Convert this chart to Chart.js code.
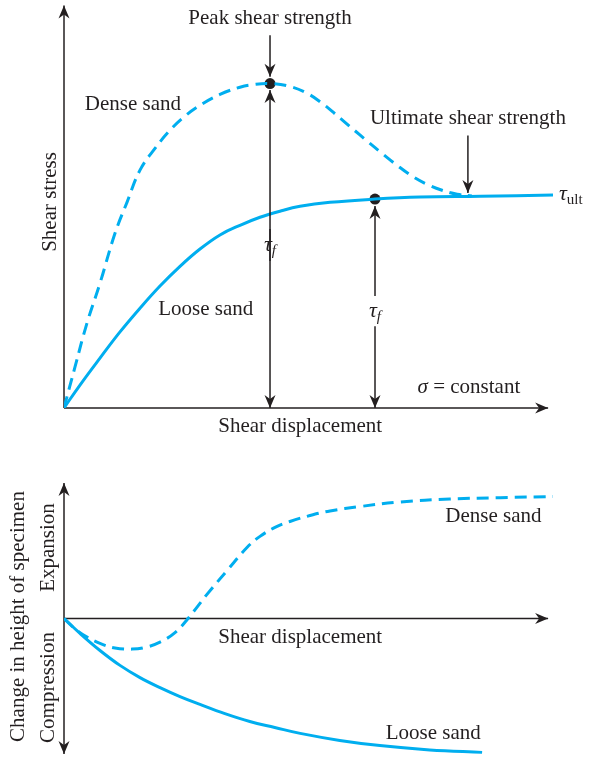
<!DOCTYPE html>
<html>
<head>
<meta charset="utf-8">
<script src="https://cdn.jsdelivr.net/npm/chart.js@4.4.1/dist/chart.umd.min.js"></script>
<style>
  html, body { margin: 0; padding: 0; background: #fff; }
  #wrap { position: relative; width: 589px; height: 758px; }
  canvas { position: absolute; left: 0; }
  #top-chart { top: 0; }
  #bottom-chart { top: 440px; }
</style>
</head>
<body>
<div id="wrap">
  <canvas id="top-chart" width="589" height="440"></canvas>
  <canvas id="bottom-chart" width="589" height="318"></canvas>
</div>
<script>
// shear stress vs shear displacement (schematic units 0-100)
const denseStressX = [0, 2.25, 4.7, 7.36, 10.43, 12.88, 15.54, 18.61, 21.68, 24.74, 27.81, 31.9, 35.99, 39.06, 42.13,
    46.2, 49.7, 52.8, 55.8, 58.9, 62.0, 65.0, 68.1, 71.2, 74.2, 77.3, 80.4, 83.4];
const denseStressY = [0, 10.2, 21.1, 31.0, 43.4, 51.1, 59.1, 64.5, 69.0, 72.5, 75.2, 77.9, 79.7, 80.4, 80.6,
    79.9, 78.2, 75.7, 72.7, 69.5, 66.3, 63.3, 60.3, 57.6, 55.6, 54.1, 53.1, 52.7];
const looseStressX = [0, 3.27, 7.36, 11.45, 15.54, 19.63, 23.72, 27.81, 31.9, 35.99, 40.08, 44.17, 48.26, 54.4, 63.6, 72.8, 85.1, 100];
const looseStressY = [0, 5.71, 12.4, 18.9, 24.8, 30.3, 35.2, 39.5, 43.0, 45.4, 47.4, 48.9, 50.1, 51.1, 51.9, 52.4, 52.6, 52.9];
const peakPoint = { x: 42.13, y: 80.6 };
const ultPoint = { x: 63.6, y: 51.9 };

// change in height vs shear displacement
const denseHeightX = [0, 2.45, 4.9, 7.36, 10.43, 13.9, 16.56, 19.63, 22.7, 25.36, 29.24, 33.54, 37.42, 40.08, 43.15,
    46.2, 50.3, 54.4, 60.5, 68.7, 78.9, 89.2, 100];
const denseHeightY = [0, -4.1, -7.0, -9.2, -10.9, -11.3, -10.7, -8.7, -5.2, 0, 8.9, 18.1, 26.2, 30.3, 33.6,
    35.8, 38.0, 39.7, 41.3, 43.0, 44.1, 44.6, 45.0];
const looseHeightX = [0, 3.27, 7.36, 11.45, 15.54, 19.63, 23.72, 27.81, 32.9, 38.0, 43.1, 48.3, 56.4, 64.6, 74.8, 85.5];
const looseHeightY = [0, -5.5, -11.8, -17.3, -21.8, -25.5, -28.8, -31.7, -35.1, -38.0, -40.2, -42.4, -45.0, -46.9, -48.5, -49.4];

const BLUE = '#00aeef';
const INK = '#231f20';
const SERIF = '"Liberation Serif", "DejaVu Serif", serif';

const pts = (xs, ys) => xs.map((x, i) => ({ x: x, y: ys[i] }));

function arrowHead(ctx, x, y, angle) {
    ctx.save();
    ctx.translate(x, y);
    ctx.rotate(angle);
    ctx.beginPath();
    ctx.moveTo(0, 0);
    ctx.lineTo(-13, -5.5);
    ctx.lineTo(-9, 0);
    ctx.lineTo(-13, 5.5);
    ctx.closePath();
    ctx.fillStyle = INK;
    ctx.fill();
    ctx.restore();
}

// line from a to b (pixels), heads on the ends asked for
function arrow(ctx, a, b, headStart, headEnd) {
    ctx.save();
    ctx.strokeStyle = INK;
    ctx.lineWidth = 1.5;
    ctx.beginPath();
    ctx.moveTo(a.x, a.y);
    ctx.lineTo(b.x, b.y);
    ctx.stroke();
    ctx.restore();
    const ang = Math.atan2(b.y - a.y, b.x - a.x);
    if (headEnd) arrowHead(ctx, b.x, b.y, ang);
    if (headStart) arrowHead(ctx, a.x, a.y, ang + Math.PI);
}

function text(ctx, str, x, y, opts = {}) {
    ctx.save();
    ctx.fillStyle = INK;
    ctx.font = (opts.italic ? 'italic ' : '') + (opts.size || 21) + 'px ' + SERIF;
    ctx.textAlign = opts.align || 'center';
    ctx.textBaseline = 'middle';
    ctx.translate(x, y);
    if (opts.rotate) ctx.rotate(opts.rotate);
    ctx.fillText(str, 0, 0);
    ctx.restore();
}

// tau with subscript, e.g. tau_f
function tau(ctx, x, y, sub, subItalic) {
    ctx.save();
    ctx.fillStyle = INK;
    ctx.textBaseline = 'alphabetic';
    ctx.textAlign = 'left';
    ctx.font = 'italic 22px ' + SERIF;
    const w = ctx.measureText('\u03c4').width;
    ctx.font = (subItalic ? 'italic ' : '') + '15px ' + SERIF;
    const sw = ctx.measureText(sub).width;
    const left = x - (w + sw) / 2;
    ctx.font = 'italic 22px ' + SERIF;
    ctx.fillText('\u03c4', left, y + 6);
    ctx.font = (subItalic ? 'italic ' : '') + '15px ' + SERIF;
    ctx.fillText(sub, left + w, y + 10);
    ctx.restore();
    return left;
}

const baseOptions = (padding, yMin, yMax) => ({
    responsive: false,
    animation: false,
    events: [],
    layout: { padding: padding },
    scales: {
        x: { type: 'linear', min: 0, max: 100, display: false },
        y: { type: 'linear', min: yMin, max: yMax, display: false }
    },
    plugins: {
        legend: { display: false },
        tooltip: { enabled: false },
        title: { display: false }
    },
    elements: { point: { radius: 0 } }
});

const curve = (data, dashed) => ({
    data: data,
    borderColor: BLUE,
    borderWidth: 3,
    borderDash: dashed ? [12, 7] : [],
    tension: 0.4,
    fill: false,
    pointRadius: 0
});

// top panel: axes, arrows and labels
const topDecor = {
    id: 'topDecor',
    beforeDatasetsDraw(chart) {
        const ctx = chart.ctx;
        const sx = chart.scales.x, sy = chart.scales.y;
        const P = (x, y) => ({ x: sx.getPixelForValue(x), y: sy.getPixelForValue(y) });
        arrow(ctx, P(0, 0), P(0, 100), false, true);
        arrow(ctx, P(0, 0), P(99, 0), false, true);
    },
    afterDatasetsDraw(chart) {
        const ctx = chart.ctx;
        const sx = chart.scales.x, sy = chart.scales.y;
        const P = (x, y) => ({ x: sx.getPixelForValue(x), y: sy.getPixelForValue(y) });

        // peak: label arrow and tau_f dimension
        arrow(ctx, P(peakPoint.x, 92.6), P(peakPoint.x, 82.3), false, true);
        arrow(ctx, P(peakPoint.x, 0), P(peakPoint.x, 44.5), true, false);
        arrow(ctx, P(peakPoint.x, 36.5), P(peakPoint.x, 79.0), false, true);
        // loose: tau_f dimension
        arrow(ctx, P(ultPoint.x, 0), P(ultPoint.x, 20.3), true, false);
        arrow(ctx, P(ultPoint.x, 27.8), P(ultPoint.x, 50.2), false, true);
        // ultimate strength arrow
        arrow(ctx, P(82.6, 67.7), P(82.6, 53.4), false, true);

        let p = P(peakPoint.x, 40.5);
        tau(ctx, p.x, p.y, 'f', true);
        p = P(ultPoint.x, 24.0);
        tau(ctx, p.x, p.y, 'f', true);
        p = P(101.4, 52.6);
        ctx.save();
        ctx.font = 'italic 22px ' + SERIF;
        const tw = ctx.measureText('\u03c4').width;
        ctx.restore();
        tau(ctx, p.x + (tw + 14) / 2, p.y - 2, 'ult', false);

        p = P(peakPoint.x, 96.8);
        text(ctx, 'Peak shear strength', p.x, p.y);
        p = P(14.1, 75.4);
        text(ctx, 'Dense sand', p.x, p.y);
        p = P(82.6, 72.0);
        text(ctx, 'Ultimate shear strength', p.x, p.y);
        p = P(29.0, 24.6);
        text(ctx, 'Loose sand', p.x, p.y);
        p = P(48.3, -4.7);
        text(ctx, 'Shear displacement', p.x, p.y);
        p = P(82.8, 5.0);
        ctx.save();
        ctx.font = 'italic 21px ' + SERIF;
        const sw = ctx.measureText('\u03c3').width;
        ctx.font = '21px ' + SERIF;
        const rw = ctx.measureText(' = constant').width;
        ctx.restore();
        const left = p.x - (sw + rw) / 2;
        text(ctx, '\u03c3', left, p.y, { italic: true, align: 'left' });
        text(ctx, ' = constant', left + sw, p.y, { align: 'left' });
        text(ctx, 'Shear stress', 50, 202, { rotate: -Math.PI / 2 });
    }
};

new Chart(document.getElementById('top-chart'), {
    type: 'line',
    data: {
        datasets: [
            curve(pts(denseStressX, denseStressY), true),
            curve(pts(looseStressX, looseStressY), false),
            {
                type: 'scatter',
                data: [peakPoint, ultPoint],
                pointRadius: 5.5,
                pointBackgroundColor: INK,
                pointBorderWidth: 0,
                showLine: false
            }
        ]
    },
    options: baseOptions({ left: 64, right: 36, top: 5, bottom: 32 }, 0, 100),
    plugins: [topDecor]
});

// bottom panel
const bottomDecor = {
    id: 'bottomDecor',
    beforeDatasetsDraw(chart) {
        const ctx = chart.ctx;
        const sx = chart.scales.x, sy = chart.scales.y;
        const P = (x, y) => ({ x: sx.getPixelForValue(x), y: sy.getPixelForValue(y) });
        arrow(ctx, P(0, -50), P(0, 50), true, true);
        arrow(ctx, P(0, 0), P(99, 0), false, true);
    },
    afterDatasetsDraw(chart) {
        const ctx = chart.ctx;
        const sx = chart.scales.x, sy = chart.scales.y;
        const P = (x, y) => ({ x: sx.getPixelForValue(x), y: sy.getPixelForValue(y) });
        let p = P(48.3, -7.0);
        text(ctx, 'Shear displacement', p.x, p.y);
        p = P(87.8, 37.6);
        text(ctx, 'Dense sand', p.x, p.y);
        p = P(75.5, -42.4);
        text(ctx, 'Loose sand', p.x, p.y);
        p = P(0, 0);
        text(ctx, 'Change in height of specimen', 18, p.y - 2, { rotate: -Math.PI / 2 });
        text(ctx, 'Expansion', 48, p.y - 71, { rotate: -Math.PI / 2 });
        text(ctx, 'Compression', 48, p.y + 69, { rotate: -Math.PI / 2 });
    }
};

new Chart(document.getElementById('bottom-chart'), {
    type: 'line',
    data: {
        datasets: [
            curve(pts(denseHeightX, denseHeightY), true),
            curve(pts(looseHeightX, looseHeightY), false)
        ]
    },
    options: baseOptions({ left: 64, right: 36, top: 43, bottom: 4 }, -50, 50),
    plugins: [bottomDecor]
});
</script>
</body>
</html>
